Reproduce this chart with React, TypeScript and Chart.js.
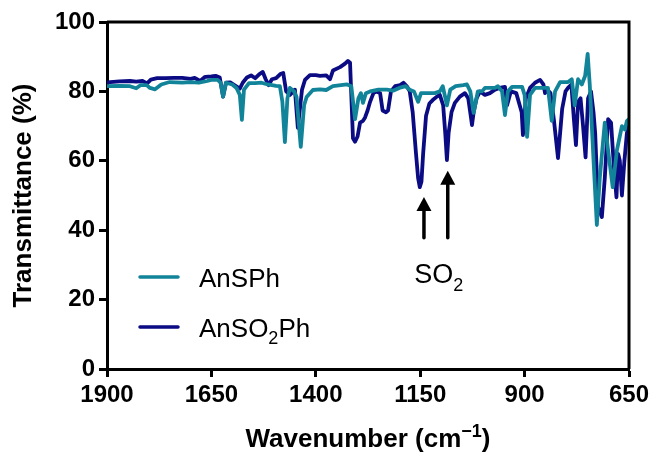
import React, { useEffect, useRef } from 'react';
import { Chart, registerables } from 'chart.js';

Chart.register(...registerables);

const FONT = '"Liberation Sans", Arial, Helvetica, sans-serif';

// Axis ticks
const xTickValues = [1900, 1650, 1400, 1150, 900, 650];
const yTickValues = [0, 20, 40, 60, 80, 100];

// Series names
const nameAnSPh = 'AnSPh';
const nameAnSO2Ph = 'AnSO2Ph';

// AnSPh (teal)
const anSPhWn = [1900, 1870, 1845, 1830, 1820, 1805, 1797, 1785, 1770, 1750, 1720, 1700, 1680, 1660, 1650, 1635, 1628, 1622, 1615, 1600, 1590, 1582, 1577, 1572, 1560, 1545, 1530, 1515, 1495, 1486, 1480, 1474, 1468, 1462, 1452, 1446, 1436, 1428, 1422, 1407, 1390, 1375, 1359, 1340, 1325, 1315, 1306, 1298, 1292, 1287, 1280, 1270, 1250, 1230, 1215, 1200, 1185, 1175, 1165, 1155, 1148, 1130, 1115, 1103, 1096, 1086, 1078, 1065, 1047, 1038, 1030, 1022, 1012, 1002, 995, 971, 964, 954, 947, 940, 930, 906, 900, 894, 887, 875, 844, 835, 827, 815, 796, 787, 780, 772, 763, 755, 749, 744, 739, 734, 727, 720, 708, 701, 689, 679, 667, 660, 655, 650];
const anSPhT = [81.5, 81.6, 81.5, 80.9, 81.8, 81.8, 81.0, 80.6, 82.0, 82.7, 82.5, 82.7, 82.5, 83.0, 83.3, 83.3, 82.5, 78.5, 82.5, 82.0, 81.0, 79.0, 71.8, 80.5, 82.4, 82.4, 82.5, 82.0, 81.6, 81.5, 77.0, 65.4, 78.0, 81.0, 80.0, 78.4, 64.0, 76.0, 78.4, 80.4, 80.6, 80.4, 81.5, 81.8, 82.0, 81.5, 72.0, 78.0, 79.5, 76.7, 79.5, 80.0, 80.5, 80.5, 80.2, 81.0, 81.5, 80.5, 80.0, 77.0, 79.5, 79.5, 79.5, 80.0, 81.5, 76.0, 80.5, 81.5, 81.8, 82.0, 80.0, 73.8, 80.0, 80.0, 81.0, 81.0, 81.5, 80.0, 73.2, 80.0, 81.3, 81.3, 79.0, 66.9, 79.0, 81.0, 81.0, 71.5, 80.0, 82.7, 82.7, 83.5, 76.0, 83.5, 82.0, 84.5, 90.8, 82.0, 70.0, 58.0, 41.5, 55.0, 71.0, 64.0, 52.4, 63.0, 70.0, 69.0, 71.5, 72.0];

// AnSO2Ph (navy)
const anSO2PhWn = [1900, 1870, 1845, 1830, 1815, 1804, 1795, 1780, 1760, 1740, 1720, 1700, 1690, 1677, 1665, 1650, 1640, 1630, 1622, 1615, 1605, 1595, 1582, 1575, 1565, 1555, 1545, 1535, 1527, 1520, 1513, 1505, 1495, 1485, 1478, 1471, 1462, 1450, 1443, 1433, 1426, 1414, 1400, 1390, 1375, 1366, 1359, 1342, 1330, 1323, 1318, 1311, 1306, 1300, 1294, 1287, 1282, 1276, 1270, 1262, 1255, 1246, 1240, 1232, 1227, 1220, 1210, 1198, 1190, 1182, 1175, 1168, 1160, 1155, 1151, 1147, 1143, 1136, 1128, 1120, 1110, 1103, 1095, 1090, 1086, 1082, 1075, 1067, 1055, 1043, 1035, 1029, 1026, 1022, 1015, 1007, 995, 983, 971, 960, 947, 942, 933, 920, 907, 904, 897, 887, 875, 863, 855, 851, 846, 838, 830, 820, 810, 802, 796, 788, 782, 777, 772, 766, 760, 754, 748, 741, 735, 731, 724, 715, 708, 700, 693, 686, 680, 676, 672, 667, 661, 655, 650];
const anSO2PhT = [82.6, 82.9, 83.0, 82.8, 83.0, 82.3, 83.4, 83.8, 83.8, 83.9, 83.9, 83.6, 83.9, 83.0, 84.2, 84.3, 84.5, 84.0, 78.5, 82.5, 82.6, 81.8, 80.8, 82.5, 84.0, 84.6, 83.8, 85.0, 85.6, 83.5, 81.8, 83.5, 83.8, 85.0, 85.3, 80.0, 79.0, 80.5, 69.5, 80.5, 83.3, 84.7, 84.7, 84.5, 84.6, 83.5, 86.0, 87.0, 88.0, 88.8, 88.3, 66.5, 65.5, 67.0, 71.0, 71.5, 72.5, 74.5, 77.0, 79.5, 80.0, 79.5, 74.5, 74.0, 74.5, 80.0, 81.5, 81.8, 82.5, 81.5, 80.0, 74.0, 62.0, 55.0, 52.4, 54.0, 62.0, 73.0, 76.5, 77.5, 78.5, 79.0, 76.0, 68.0, 60.2, 68.0, 74.0, 76.7, 78.5, 79.5, 78.0, 73.0, 70.3, 74.0, 78.0, 80.0, 79.0, 79.5, 80.5, 81.0, 81.3, 76.0, 80.0, 79.5, 74.0, 67.4, 78.0, 81.0, 82.5, 83.3, 82.0, 79.5, 80.5, 79.5, 72.0, 60.8, 75.0, 80.0, 81.0, 82.0, 72.0, 64.5, 77.0, 78.0, 70.0, 61.0, 78.0, 80.0, 74.0, 68.0, 46.7, 43.8, 55.0, 72.0, 71.0, 58.0, 49.5, 62.0, 60.0, 50.0, 60.0, 68.0, 70.0];

// SO2 annotation arrows (wavenumber, tip / base transmittance)
const arrowWn = [1141, 1084];
const arrowTipT = [49.6, 57.1];
const arrowBaseT = 37.8;

const TEAL = '#12849A';
const NAVY = '#0B0B83';

const toPoints = (wn: number[], t: number[]) => wn.map((w, i) => ({ x: w, y: t[i] }));

const drawSubText = (
  ctx: CanvasRenderingContext2D,
  parts: { t: string; sub?: boolean; sup?: boolean }[],
  x: number,
  y: number,
  size: number,
  weight: string,
  align: 'left' | 'center'
) => {
  const mainFont = `${weight} ${size}px ${FONT}`;
  const smallFont = `${weight} ${Math.round(size * 0.68)}px ${FONT}`;
  let total = 0;
  const widths = parts.map((p) => {
    ctx.font = p.sub || p.sup ? smallFont : mainFont;
    const w = ctx.measureText(p.t).width;
    total += w;
    return w;
  });
  let cx = align === 'center' ? x - total / 2 : x;
  ctx.textBaseline = 'alphabetic';
  ctx.textAlign = 'left';
  parts.forEach((p, i) => {
    ctx.font = p.sub || p.sup ? smallFont : mainFont;
    const dy = p.sub ? size * 0.3 : p.sup ? -size * 0.4 : 0;
    ctx.fillText(p.t, cx, y + dy);
    cx += widths[i];
  });
};

const decorPlugin = {
  id: 'decor',
  afterDatasetsDraw(chart: any) {
    const { ctx, chartArea, scales } = chart;
    const { left, right, top, bottom } = chartArea;
    const xs = scales.x;
    const ys = scales.y;
    ctx.save();
    // frame (top + right)
    ctx.strokeStyle = '#000';
    ctx.lineWidth = 3;
    ctx.beginPath();
    ctx.moveTo(left, top);
    ctx.lineTo(right, top);
    ctx.lineTo(right, bottom);
    ctx.stroke();

    // arrows
    ctx.fillStyle = '#000';
    ctx.strokeStyle = '#000';
    arrowWn.forEach((w, i) => {
      const ax = xs.getPixelForValue(w);
      const tipY = ys.getPixelForValue(arrowTipT[i]);
      const baseY = ys.getPixelForValue(arrowBaseT);
      const head = 14;
      ctx.lineWidth = 3.5;
      ctx.lineCap = 'round';
      ctx.beginPath();
      ctx.moveTo(ax, baseY);
      ctx.lineTo(ax, tipY + head - 1);
      ctx.stroke();
      ctx.beginPath();
      ctx.moveTo(ax, tipY);
      ctx.lineTo(ax - 7.5, tipY + head);
      ctx.lineTo(ax + 7.5, tipY + head);
      ctx.closePath();
      ctx.fill();
    });
    // SO2 label
    const a0 = xs.getPixelForValue(arrowWn[0]);
    const a1 = xs.getPixelForValue(arrowWn[1]);
    const baseY = ys.getPixelForValue(arrowBaseT);
    drawSubText(ctx, [{ t: 'SO' }, { t: '2', sub: true }], (a0 + a1) / 2 + 3, baseY + 45, 27, 'normal', 'center');

    // legend
    const lx0 = left + 33;
    const lx1 = left + 71;
    const tx = left + 92;
    const rows = [
      { color: TEAL, y: top + 255, parts: [{ t: nameAnSPh }] },
      { color: NAVY, y: top + 305, parts: [{ t: 'AnSO' }, { t: '2', sub: true }, { t: 'Ph' }] },
    ];
    rows.forEach((r) => {
      ctx.strokeStyle = r.color;
      ctx.lineWidth = 3.5;
      ctx.lineCap = 'round';
      ctx.beginPath();
      ctx.moveTo(lx0, r.y);
      ctx.lineTo(lx1, r.y);
      ctx.stroke();
      ctx.fillStyle = '#000';
      drawSubText(ctx, r.parts, tx, r.y + 9.5, 26, 'normal', 'left');
    });

    // x-axis title
    ctx.fillStyle = '#000';
    drawSubText(
      ctx,
      [{ t: 'Wavenumber (cm' }, { t: '\u22121', sup: true }, { t: ')' }],
      (left + right) / 2,
      447,
      26,
      'bold',
      'center'
    );
    ctx.restore();
  },
};

export default function App() {
  const ref = useRef<HTMLCanvasElement | null>(null);
  useEffect(() => {
    document.body.style.margin = '0';
    const canvas = ref.current;
    if (!canvas) return;
    const lineStyle = {
      borderWidth: 3.8,
      pointRadius: 0,
      tension: 0,
      borderJoinStyle: 'round',
      borderCapStyle: 'round',
    };
    const chart = new Chart(canvas, {
      type: 'line',
      data: {
        datasets: [
          {
            label: nameAnSPh,
            data: toPoints(anSPhWn, anSPhT),
            borderColor: TEAL,
            backgroundColor: TEAL,
            ...lineStyle,
          },
          {
            label: nameAnSO2Ph,
            data: toPoints(anSO2PhWn, anSO2PhT),
            borderColor: NAVY,
            backgroundColor: NAVY,
            ...lineStyle,
          },
        ],
      },
      options: {
        animation: false,
        responsive: false,
        devicePixelRatio: 1,
        layout: { padding: { left: 0, top: 22, right: 26, bottom: 0 } },
        plugins: { legend: { display: false }, tooltip: { enabled: false } },
        scales: {
          x: {
            type: 'linear',
            min: 650,
            max: 1900,
            reverse: true,
            afterBuildTicks: (s: any) => {
              s.ticks = xTickValues.map((v) => ({ value: v }));
            },
            afterFit: (s: any) => {
              s.height = 89;
            },
            border: { display: true, color: '#000', width: 3 },
            grid: { drawOnChartArea: false, drawTicks: true, tickLength: 8, tickWidth: 3, tickColor: '#000' },
            ticks: {
              color: '#000',
              font: { family: FONT, size: 24, weight: 'bold' },
              padding: 4,
              maxRotation: 0,
              autoSkip: false,
              callback: (v: any) => String(v),
            },
          },
          y: {
            min: 0,
            max: 100,
            afterBuildTicks: (s: any) => {
              s.ticks = yTickValues.map((v) => ({ value: v }));
            },
            afterFit: (s: any) => {
              s.width = 107;
            },
            border: { display: true, color: '#000', width: 3 },
            grid: { drawOnChartArea: false, drawTicks: true, tickLength: 8, tickWidth: 3, tickColor: '#000' },
            ticks: {
              color: '#000',
              font: { family: FONT, size: 24, weight: 'bold' },
              padding: 4,
              callback: (v: any) => String(v),
            },
            title: {
              display: true,
              text: 'Transmittance (%)',
              color: '#000',
              font: { family: FONT, size: 26, weight: 'bold' },
              padding: { top: 8, bottom: 0 },
            },
          },
        },
      },
      plugins: [decorPlugin],
    } as any);
    return () => chart.destroy();
  }, []);
  return <canvas ref={ref} width={655} height={458} style={{ display: 'block' }} />;
}
